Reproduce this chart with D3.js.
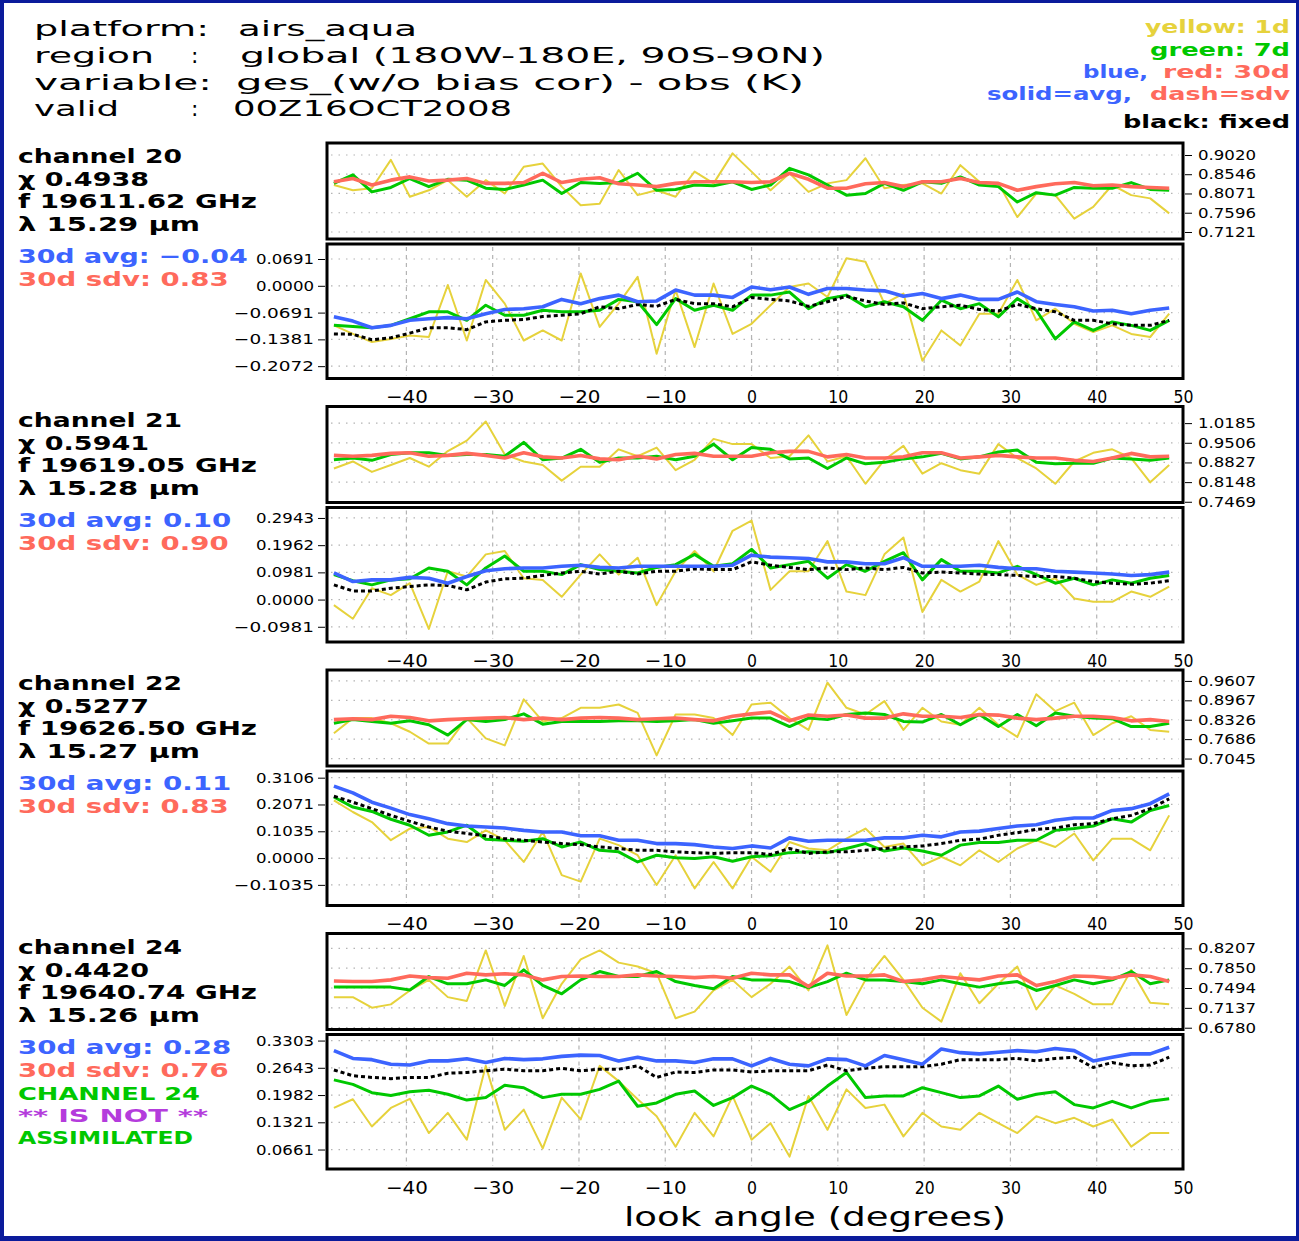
<!DOCTYPE html>
<html>
<head>
<meta charset="utf-8">
<script src="https://cdn.jsdelivr.net/npm/d3@7"></script>
<style>
body{margin:0;background:#fff;}
svg{display:block;}
</style>
</head>
<body>
<script>
// look angles (every other AIRS footprint)
var lookAngle=[-48.4,-46.2,-44.0,-41.8,-39.6,-37.4,-35.2,-33.0,-30.8,-28.6,-26.4,-24.2,-22.0,-19.8,-17.6,-15.4,-13.2,-11.0,-8.8,-6.6,-4.4,-2.2,0.0,2.2,4.4,6.6,8.8,11.0,13.2,15.4,17.6,19.8,22.0,24.2,26.4,28.6,30.8,33.0,35.2,37.4,39.6,41.8,44.0,46.2,48.4];
var xTicks=[-40,-30,-20,-10,0,10,20,30,40,50];

var channelNum=["20","21","22","24"];
var chiVal=["0.4938","0.5941","0.5277","0.4420"];
var freqGHz=["19611.62","19619.05","19626.50","19640.74"];
var waveUm=["15.29","15.28","15.27","15.26"];
var avg30txt=["\u22120.04","0.10","0.11","0.28"];
var sdv30txt=["0.83","0.90","0.83","0.76"];

var sdvTicks=[[0.9020,0.8546,0.8071,0.7596,0.7121],[1.0185,0.9506,0.8827,0.8148,0.7469],[0.9607,0.8967,0.8326,0.7686,0.7045],[0.8207,0.7850,0.7494,0.7137,0.6780]];
var avgTicks=[[0.0691,0,-0.0691,-0.1381,-0.2072],[0.2943,0.1962,0.0981,0,-0.0981],[0.3106,0.2071,0.1035,0,-0.1035],[0.3303,0.2643,0.1982,0.1321,0.0661]];

// channel 20
var sdv1d_20=[0.828,0.815,0.820,0.890,0.799,0.815,0.840,0.799,0.840,0.807,0.873,0.881,0.824,0.778,0.782,0.865,0.803,0.815,0.799,0.861,0.832,0.906,0.861,0.815,0.857,0.811,0.832,0.840,0.894,0.820,0.828,0.832,0.807,0.877,0.836,0.832,0.749,0.807,0.803,0.745,0.774,0.828,0.803,0.795,0.758];
var sdv7d_20=[0.832,0.853,0.811,0.822,0.844,0.824,0.842,0.840,0.820,0.817,0.828,0.840,0.807,0.834,0.832,0.834,0.857,0.815,0.817,0.828,0.826,0.836,0.817,0.828,0.869,0.853,0.828,0.803,0.807,0.832,0.815,0.836,0.832,0.848,0.828,0.824,0.786,0.809,0.803,0.822,0.820,0.820,0.834,0.817,0.815];
var sdv30d_20=[0.836,0.844,0.828,0.840,0.848,0.838,0.840,0.844,0.832,0.832,0.834,0.857,0.834,0.842,0.846,0.831,0.828,0.824,0.832,0.836,0.836,0.836,0.834,0.836,0.857,0.842,0.820,0.820,0.831,0.834,0.824,0.836,0.836,0.844,0.834,0.832,0.815,0.824,0.831,0.834,0.826,0.828,0.824,0.822,0.820];
var avg1d_20=[-0.102,-0.124,-0.145,-0.137,-0.128,-0.132,0.002,-0.141,0.015,-0.046,-0.141,-0.115,-0.141,0.032,-0.106,-0.046,0.023,-0.175,-0.011,-0.158,0.006,-0.124,-0.098,-0.050,-0.003,0.006,-0.029,0.071,0.062,-0.046,-0.020,-0.193,-0.115,-0.154,-0.072,-0.072,0.015,-0.089,-0.059,-0.098,-0.119,-0.102,-0.124,-0.132,-0.072];
var avg7d_20=[-0.102,-0.105,-0.108,-0.102,-0.085,-0.067,-0.067,-0.089,-0.050,-0.076,-0.076,-0.063,-0.067,-0.067,-0.063,-0.035,-0.041,-0.100,-0.033,-0.063,-0.050,-0.063,-0.024,-0.024,-0.016,-0.059,-0.033,-0.024,-0.054,-0.041,-0.054,-0.089,-0.037,-0.059,-0.046,-0.080,-0.033,-0.063,-0.137,-0.093,-0.115,-0.093,-0.102,-0.115,-0.089];
var avg30d_20=[-0.080,-0.091,-0.108,-0.102,-0.089,-0.085,-0.082,-0.085,-0.072,-0.061,-0.059,-0.054,-0.035,-0.046,-0.033,-0.024,-0.041,-0.039,-0.011,-0.024,-0.024,-0.030,-0.003,-0.010,-0.003,-0.022,-0.007,-0.007,-0.011,-0.013,-0.027,-0.020,-0.033,-0.024,-0.035,-0.035,-0.016,-0.041,-0.048,-0.054,-0.065,-0.063,-0.072,-0.063,-0.057];
var fixed_20=[-0.124,-0.125,-0.139,-0.134,-0.122,-0.108,-0.108,-0.113,-0.093,-0.089,-0.087,-0.079,-0.076,-0.072,-0.054,-0.059,-0.048,-0.053,-0.035,-0.046,-0.046,-0.054,-0.030,-0.035,-0.039,-0.053,-0.041,-0.027,-0.039,-0.048,-0.044,-0.059,-0.054,-0.050,-0.061,-0.065,-0.048,-0.059,-0.067,-0.089,-0.089,-0.098,-0.102,-0.102,-0.089];

// channel 21
var sdv1d_21=[0.862,0.886,0.850,0.874,0.898,0.868,0.922,0.958,1.024,0.910,0.886,0.874,0.820,0.868,0.868,0.928,0.904,0.934,0.856,0.892,0.964,0.946,0.946,0.898,0.904,0.976,0.886,0.904,0.809,0.892,0.940,0.844,0.880,0.856,0.844,0.946,0.898,0.862,0.809,0.886,0.916,0.928,0.898,0.814,0.874];
var sdv7d_21=[0.892,0.898,0.890,0.910,0.916,0.916,0.907,0.910,0.910,0.904,0.952,0.892,0.898,0.928,0.883,0.898,0.898,0.904,0.892,0.904,0.946,0.892,0.934,0.928,0.895,0.898,0.862,0.898,0.878,0.883,0.895,0.902,0.914,0.895,0.902,0.919,0.926,0.883,0.878,0.880,0.880,0.898,0.895,0.890,0.898];
var sdv30d_21=[0.907,0.904,0.907,0.914,0.916,0.904,0.907,0.914,0.907,0.898,0.916,0.902,0.898,0.907,0.895,0.892,0.904,0.895,0.910,0.914,0.904,0.904,0.904,0.916,0.921,0.921,0.902,0.910,0.898,0.898,0.902,0.916,0.916,0.898,0.902,0.907,0.902,0.898,0.898,0.890,0.886,0.898,0.914,0.902,0.904];
var avg1d_21=[-0.020,-0.069,0.041,0.016,0.059,-0.106,0.102,0.083,0.163,0.175,0.077,0.071,0.010,0.090,0.163,0.090,0.151,-0.020,0.102,0.175,0.102,0.248,0.285,0.035,0.102,0.102,0.211,0.029,0.016,0.163,0.224,-0.045,0.071,0.029,0.065,0.211,0.090,0.053,0.077,0.004,-0.008,-0.008,0.029,0.010,0.047];
var avg7d_21=[0.090,0.068,0.053,0.071,0.075,0.114,0.102,0.053,0.114,0.157,0.102,0.102,0.090,0.126,0.108,0.102,0.096,0.116,0.126,0.163,0.120,0.129,0.181,0.114,0.126,0.138,0.077,0.126,0.102,0.138,0.169,0.071,0.144,0.102,0.102,0.096,0.120,0.090,0.059,0.077,0.053,0.071,0.059,0.077,0.087];
var avg30d_21=[0.096,0.065,0.071,0.071,0.080,0.077,0.059,0.083,0.104,0.111,0.114,0.114,0.120,0.124,0.116,0.114,0.120,0.120,0.120,0.120,0.120,0.124,0.160,0.153,0.151,0.148,0.136,0.136,0.129,0.129,0.151,0.120,0.120,0.120,0.124,0.116,0.111,0.111,0.102,0.099,0.096,0.092,0.087,0.090,0.099];
var fixed_21=[0.053,0.031,0.031,0.041,0.047,0.053,0.051,0.035,0.063,0.075,0.077,0.087,0.096,0.102,0.092,0.102,0.092,0.102,0.102,0.111,0.108,0.108,0.136,0.124,0.116,0.108,0.114,0.108,0.114,0.108,0.116,0.096,0.099,0.096,0.092,0.090,0.087,0.083,0.083,0.077,0.065,0.059,0.055,0.059,0.068];

// channel 22
var sdv1d_22=[0.788,0.838,0.838,0.821,0.793,0.754,0.754,0.838,0.771,0.748,0.900,0.827,0.838,0.872,0.872,0.883,0.855,0.715,0.850,0.850,0.838,0.782,0.883,0.889,0.838,0.799,0.955,0.872,0.850,0.894,0.799,0.872,0.827,0.816,0.872,0.816,0.776,0.917,0.861,0.889,0.782,0.821,0.844,0.799,0.793];
var sdv7d_22=[0.821,0.833,0.827,0.821,0.829,0.816,0.782,0.833,0.827,0.833,0.852,0.818,0.827,0.827,0.827,0.829,0.829,0.827,0.829,0.833,0.821,0.829,0.838,0.838,0.810,0.838,0.833,0.850,0.855,0.850,0.827,0.825,0.850,0.816,0.850,0.810,0.850,0.813,0.855,0.844,0.838,0.836,0.810,0.810,0.821];
var sdv30d_22=[0.833,0.836,0.833,0.844,0.840,0.829,0.833,0.836,0.838,0.840,0.833,0.838,0.833,0.838,0.840,0.838,0.833,0.836,0.838,0.833,0.829,0.844,0.852,0.858,0.829,0.848,0.844,0.848,0.838,0.838,0.852,0.844,0.844,0.840,0.850,0.848,0.838,0.833,0.838,0.844,0.844,0.840,0.829,0.833,0.827];
var avg1d_22=[0.223,0.178,0.139,0.069,0.114,0.120,0.075,0.062,0.107,0.069,-0.015,0.101,-0.066,-0.091,0.075,0.050,0.011,-0.104,0.011,-0.117,-0.015,-0.117,0.005,-0.053,0.062,0.037,0.030,0.075,0.114,0.043,0.056,-0.028,0.005,-0.028,0.030,-0.015,0.037,0.069,0.043,0.095,-0.009,0.075,0.075,0.030,0.165];
var avg7d_22=[0.236,0.197,0.180,0.150,0.127,0.088,0.101,0.127,0.073,0.069,0.065,0.075,0.043,0.062,0.030,0.024,-0.015,0.011,0.001,-0.002,0.005,-0.012,0.005,0.009,0.021,0.024,0.021,0.037,0.056,0.027,0.039,0.027,0.011,0.050,0.060,0.060,0.069,0.069,0.107,0.114,0.124,0.152,0.139,0.184,0.203];
var avg30d_22=[0.278,0.252,0.216,0.193,0.168,0.152,0.133,0.124,0.120,0.116,0.107,0.101,0.101,0.086,0.086,0.069,0.069,0.056,0.056,0.052,0.043,0.037,0.047,0.039,0.078,0.065,0.069,0.069,0.069,0.078,0.078,0.088,0.082,0.101,0.104,0.114,0.124,0.129,0.146,0.155,0.155,0.184,0.191,0.210,0.248];
var fixed_22=[0.239,0.216,0.191,0.165,0.142,0.120,0.104,0.095,0.086,0.075,0.069,0.062,0.056,0.052,0.043,0.037,0.030,0.030,0.024,0.021,0.018,0.021,0.021,0.014,0.037,0.018,0.024,0.024,0.030,0.037,0.043,0.047,0.056,0.069,0.073,0.088,0.098,0.111,0.116,0.129,0.133,0.152,0.165,0.191,0.229];

// channel 24
var sdv1d_24=[0.733,0.733,0.714,0.720,0.745,0.764,0.733,0.726,0.817,0.717,0.807,0.695,0.757,0.801,0.817,0.795,0.788,0.776,0.695,0.707,0.745,0.764,0.733,0.757,0.788,0.745,0.826,0.701,0.764,0.807,0.764,0.714,0.689,0.776,0.722,0.757,0.788,0.711,0.754,0.739,0.720,0.720,0.782,0.723,0.720];
var sdv7d_24=[0.751,0.751,0.751,0.751,0.746,0.770,0.757,0.757,0.764,0.754,0.782,0.754,0.739,0.764,0.779,0.770,0.770,0.779,0.761,0.754,0.748,0.770,0.764,0.764,0.761,0.750,0.761,0.776,0.764,0.764,0.761,0.757,0.764,0.757,0.751,0.757,0.761,0.745,0.754,0.764,0.757,0.764,0.779,0.757,0.764];
var sdv30d_24=[0.762,0.761,0.761,0.764,0.771,0.768,0.767,0.776,0.773,0.775,0.773,0.764,0.770,0.771,0.770,0.770,0.773,0.771,0.770,0.768,0.770,0.767,0.776,0.773,0.773,0.752,0.776,0.771,0.771,0.773,0.761,0.764,0.770,0.767,0.764,0.771,0.773,0.754,0.761,0.771,0.770,0.767,0.773,0.770,0.761];
var avg1d_24=[0.167,0.188,0.122,0.167,0.189,0.106,0.155,0.090,0.269,0.114,0.163,0.069,0.192,0.139,0.269,0.232,0.188,0.147,0.073,0.155,0.098,0.196,0.090,0.130,0.049,0.196,0.114,0.212,0.167,0.175,0.098,0.155,0.122,0.114,0.155,0.130,0.106,0.147,0.130,0.143,0.122,0.139,0.073,0.106,0.106];
var avg7d_24=[0.235,0.224,0.204,0.197,0.206,0.210,0.200,0.186,0.192,0.222,0.216,0.192,0.200,0.200,0.212,0.232,0.171,0.179,0.200,0.208,0.173,0.192,0.220,0.200,0.163,0.183,0.220,0.253,0.192,0.196,0.196,0.216,0.204,0.192,0.196,0.220,0.188,0.200,0.206,0.175,0.167,0.183,0.167,0.183,0.189];
var avg30d_24=[0.306,0.287,0.284,0.273,0.271,0.281,0.281,0.286,0.277,0.287,0.284,0.286,0.292,0.295,0.294,0.281,0.290,0.281,0.281,0.277,0.286,0.286,0.269,0.287,0.273,0.269,0.286,0.284,0.269,0.294,0.284,0.273,0.310,0.301,0.298,0.302,0.306,0.303,0.311,0.306,0.281,0.290,0.298,0.298,0.314];
var fixed_24=[0.259,0.245,0.241,0.238,0.241,0.241,0.251,0.253,0.257,0.261,0.257,0.257,0.263,0.257,0.261,0.261,0.269,0.241,0.254,0.253,0.259,0.259,0.254,0.257,0.257,0.257,0.271,0.257,0.263,0.267,0.267,0.267,0.273,0.284,0.284,0.284,0.287,0.281,0.287,0.290,0.265,0.277,0.269,0.271,0.290];

var sdvSeries=[[sdv1d_20,sdv7d_20,sdv30d_20],[sdv1d_21,sdv7d_21,sdv30d_21],[sdv1d_22,sdv7d_22,sdv30d_22],[sdv1d_24,sdv7d_24,sdv30d_24]];
var avgSeries=[[avg1d_20,avg7d_20,fixed_20,avg30d_20],[avg1d_21,avg7d_21,fixed_21,avg30d_21],[avg1d_22,avg7d_22,fixed_22,avg30d_22],[avg1d_24,avg7d_24,fixed_24,avg30d_24]];

// axis ranges of each panel (GrADS pads them around the labelled ticks)
var sdvDomain=[[0.6948,0.9316],[0.7444,1.0759],[0.6799,0.9968],[0.6748,0.8474]];
var avgDomain=[[-0.2390,0.1078],[-0.1530,0.3320],[-0.1832,0.3364],[0.0189,0.3450]];

var W=1299,H=1241;
var cYellow="#E6D23C",cGreen="#00C800",cRed="#FF6A5C",cBlue="#3C64FF",cPurple="#B43CDC",cBorder="#0B1B9B";
var fam="DejaVu Sans";

var svg=d3.select("body").append("svg").attr("width",W).attr("height",H);
svg.append("rect").attr("width",W).attr("height",H).attr("fill","#fff");

// blue frame round the picture
svg.append("rect").attr("x",0).attr("y",0).attr("width",W).attr("height",3).attr("fill",cBorder);
svg.append("rect").attr("x",0).attr("y",H-5).attr("width",W).attr("height",5).attr("fill",cBorder);
svg.append("rect").attr("x",0).attr("y",0).attr("width",4).attr("height",H).attr("fill",cBorder);
svg.append("rect").attr("x",W-3).attr("y",0).attr("width",3).attr("height",H).attr("fill",cBorder);

function txt(x,y,s,o)
{
	var t=svg.append("text").attr("x",x).attr("y",y).text(s)
		.attr("font-family",fam)
		.attr("font-size",o.size)
		.attr("fill",o.color||"#000");
	if(o.bold) t.attr("font-weight","bold");
	if(o.anchor) t.attr("text-anchor",o.anchor);
	if(o.w) t.attr("textLength",o.w).attr("lengthAdjust","spacingAndGlyphs");
	return t;
}

//naglowek
txt(34,36,"platform:",{size:22,w:175});
txt(238,36,"airs_aqua",{size:22,w:179});
txt(34,63,"region",{size:22,w:120});
txt(191,63,":",{size:22});
txt(240,63,"global (180W-180E, 90S-90N)",{size:22,w:585});
txt(34,90,"variable:",{size:22,w:178});
txt(236,90,"ges_(w/o bias cor) - obs (K)",{size:22,w:568});
txt(34,116,"valid",{size:22,w:85});
txt(191,116,":",{size:22});
txt(233,116,"00Z16OCT2008",{size:22,w:279});

//legenda
txt(1290,33,"yellow: 1d",{size:17,bold:true,color:cYellow,anchor:"end",w:145});
txt(1290,56,"green: 7d",{size:17,bold:true,color:cGreen,anchor:"end",w:140});
txt(1083,78,"blue,",{size:17,bold:true,color:cBlue,w:65});
txt(1290,78,"red: 30d",{size:17,bold:true,color:cRed,anchor:"end",w:127});
txt(987,100,"solid=avg,",{size:17,bold:true,color:cBlue,w:145});
txt(1290,100,"dash=sdv",{size:17,bold:true,color:cRed,anchor:"end",w:140});
txt(1290,128,"black: fixed",{size:17,bold:true,anchor:"end",w:167});

var x=d3.scaleLinear().domain([-49.2,50]).range([327,1183]);
var fmt=d3.format(".4f");
var step=263.5;

for(var k=0;k<4;k++)
{
	var off=k*step;
	var tY0=143+off, tY1=239+off, bY0=244+off, bY1=378.5+off;
	var yT=d3.scaleLinear().domain(sdvDomain[k]).range([tY1,tY0]);
	var yB=d3.scaleLinear().domain(avgDomain[k]).range([bY1,bY0]);

	//opis kanalu
	txt(18,163+off,"channel "+channelNum[k],{size:20,bold:true,w:164});
	txt(18,186+off,"\u03c7 "+chiVal[k],{size:20,bold:true,w:131});
	txt(18,208+off,"f "+freqGHz[k]+" GHz",{size:20,bold:true,w:239});
	txt(18,231+off,"\u03bb "+waveUm[k]+" \u03bcm",{size:20,bold:true,w:182});
	var sAvg="30d avg: "+avg30txt[k], sSdv="30d sdv: "+sdv30txt[k];
	txt(18,263+off,sAvg,{size:20,bold:true,color:cBlue,w:16.4*sAvg.length});
	txt(18,286+off,sSdv,{size:20,bold:true,color:cRed,w:16.2*sSdv.length});
	if(channelNum[k]=="24")
	{
		txt(18,1100,"CHANNEL 24",{size:17,bold:true,color:cGreen,w:182});
		txt(18,1122,"** IS NOT **",{size:17,bold:true,color:cPurple,w:190});
		txt(18,1144,"ASSIMILATED",{size:17,bold:true,color:cGreen,w:175});
	}

	// clip paths
	var defs=svg.append("defs");
	defs.append("clipPath").attr("id","ct"+k).append("rect")
		.attr("x",x.range()[0]).attr("y",tY0).attr("width",x.range()[1]-x.range()[0]).attr("height",tY1-tY0);
	defs.append("clipPath").attr("id","cb"+k).append("rect")
		.attr("x",x.range()[0]).attr("y",bY0).attr("width",x.range()[1]-x.range()[0]).attr("height",bY1-bY0);

	//gorny panel (sdv)
	var gT=svg.append("g");
	gT.selectAll("line.h").data(sdvTicks[k]).enter().append("line")
		.attr("x1",x.range()[0]+4).attr("x2",x.range()[1]-4)
		.attr("y1",function(d){return yT(d);}).attr("y2",function(d){return yT(d);})
		.attr("stroke","#b4b4b4").attr("stroke-width",1.2).attr("stroke-dasharray","1.5,6");
	var lineT=d3.line().x(function(d,i){return x(lookAngle[i]);}).y(function(d){return yT(d);});
	var gTc=gT.append("g").attr("clip-path","url(#ct"+k+")");
	var stT=[[cYellow,2],[cGreen,3],[cRed,3.6]];
	sdvSeries[k].forEach(function(s,j){
		gTc.append("path").datum(s).attr("d",lineT).attr("fill","none")
			.attr("stroke",stT[j][0]).attr("stroke-width",stT[j][1]).attr("stroke-linejoin","round");
	});
	gT.append("rect").attr("x",x.range()[0]).attr("y",tY0)
		.attr("width",x.range()[1]-x.range()[0]).attr("height",tY1-tY0)
		.attr("fill","none").attr("stroke","#000").attr("stroke-width",3);
	var axR=gT.append("g").attr("transform","translate("+(x.range()[1]+2)+",0)")
		.call(d3.axisRight(yT).tickValues(sdvTicks[k]).tickFormat(fmt).tickSize(7).tickPadding(6));
	axR.select(".domain").remove();
	axR.selectAll("text").attr("font-family",fam).attr("font-size",14)
		.attr("textLength",58).attr("lengthAdjust","spacingAndGlyphs");

	//dolny panel (avg)
	var gB=svg.append("g");
	gB.selectAll("line.h").data(avgTicks[k]).enter().append("line")
		.attr("x1",x.range()[0]+4).attr("x2",x.range()[1]-4)
		.attr("y1",function(d){return yB(d);}).attr("y2",function(d){return yB(d);})
		.attr("stroke","#b4b4b4").attr("stroke-width",1.2).attr("stroke-dasharray","1.5,6");
	gB.selectAll("line.v").data(xTicks.slice(0,-1)).enter().append("line")
		.attr("x1",function(d){return x(d);}).attr("x2",function(d){return x(d);})
		.attr("y1",bY0+3).attr("y2",bY1-3)
		.attr("stroke","#b4b4b4").attr("stroke-width",1.2).attr("stroke-dasharray","4,4");
	var lineB=d3.line().x(function(d,i){return x(lookAngle[i]);}).y(function(d){return yB(d);});
	var gBc=gB.append("g").attr("clip-path","url(#cb"+k+")");
	var stB=[[cYellow,2,null],[cGreen,3,null],["#000",3,"4,3"],[cBlue,3.6,null]];
	avgSeries[k].forEach(function(s,j){
		var p=gBc.append("path").datum(s).attr("d",lineB).attr("fill","none")
			.attr("stroke",stB[j][0]).attr("stroke-width",stB[j][1]).attr("stroke-linejoin","round");
		if(stB[j][2]) p.attr("stroke-dasharray",stB[j][2]);
	});
	gB.append("rect").attr("x",x.range()[0]).attr("y",bY0)
		.attr("width",x.range()[1]-x.range()[0]).attr("height",bY1-bY0)
		.attr("fill","none").attr("stroke","#000").attr("stroke-width",3);
	var axL=gB.append("g").attr("transform","translate("+(x.range()[0]-2)+",0)")
		.call(d3.axisLeft(yB).tickValues(avgTicks[k]).tickFormat(fmt).tickSize(7).tickPadding(4));
	axL.select(".domain").remove();
	axL.selectAll("text").attr("font-family",fam).attr("font-size",14)
		.attr("textLength",function(d){return d<0?80:58;}).attr("lengthAdjust","spacingAndGlyphs");

	var axX=gB.append("g").attr("transform","translate(0,"+(bY1+9)+")")
		.call(d3.axisBottom(x).tickValues(xTicks).tickFormat(d3.format("d")).tickSize(0).tickPadding(3));
	axX.select(".domain").remove();
	axX.selectAll("text").attr("font-family",fam).attr("font-size",18)
		.attr("textLength",function(d){return (d<0?22:0)+(Math.abs(d)>=10?20:10);})
		.attr("lengthAdjust","spacingAndGlyphs");
}

txt(815,1226,"look angle (degrees)",{size:27,anchor:"middle",w:382});
</script>
</body>
</html>
